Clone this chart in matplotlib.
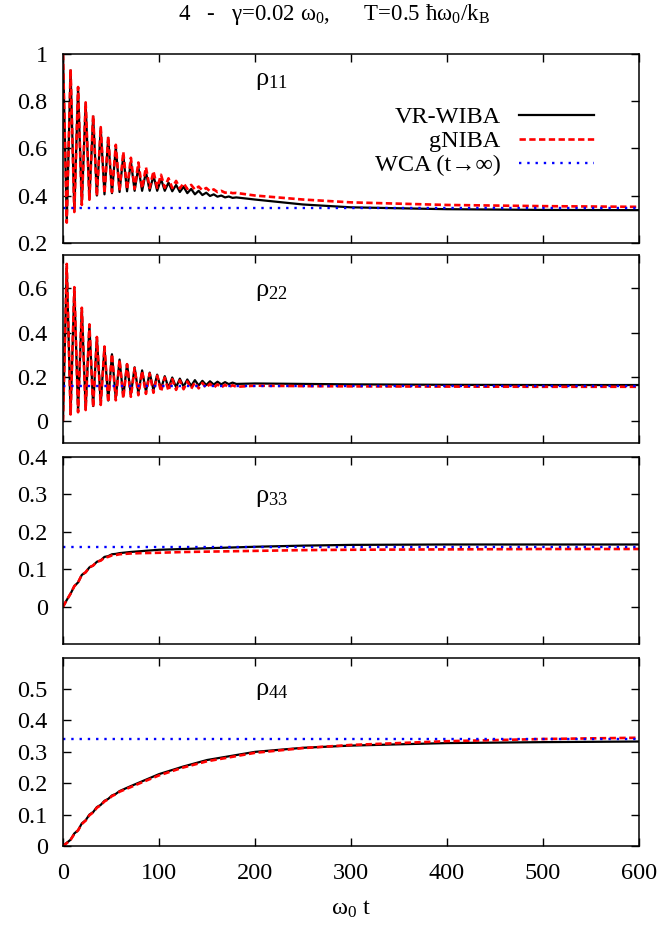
import numpy as np
import matplotlib
matplotlib.use("Agg")
import matplotlib.pyplot as plt
from matplotlib.ticker import FuncFormatter, MultipleLocator

plt.rcParams["font.family"] = ["Liberation Serif", "DejaVu Serif"]
plt.rcParams["mathtext.fontset"] = "custom"
plt.rcParams["mathtext.rm"] = "Liberation Serif"
plt.rcParams["mathtext.it"] = "Liberation Serif:italic"
plt.rcParams["mathtext.fallback"] = "stix"
plt.rcParams["mathtext.default"] = "regular"

# times of the successive maxima / minima of the fast oscillation, then the slow tail
t_osc = [0, 3.9, 7.9, 11.8, 15.7, 19.6, 23.6, 27.5, 31.4, 35.3, 39.3, 43.2, 47.1,
         51.0, 55.0, 58.9, 62.8, 66.7, 70.7, 74.6, 78.5, 82.4, 86.4, 90.3, 94.2,
         98.1, 102.1, 106.0, 109.9, 113.8, 117.8, 121.7, 125.6, 129.5, 133.5,
         137.4, 141.3, 145.2, 149.2, 153.1, 157.0, 160.9, 164.8, 168.8, 172.7,
         176.6, 180.5]
t_tail = [200, 250, 300, 400, 500, 600]

# rho_11
rho11_vr = [1.0, 0.29, 0.93, 0.335, 0.855, 0.365, 0.79, 0.385, 0.735, 0.40, 0.685,
            0.405, 0.645, 0.41, 0.605, 0.415, 0.57, 0.418, 0.545, 0.42, 0.52, 0.42,
            0.50, 0.42, 0.485, 0.42, 0.47, 0.42, 0.455, 0.418, 0.445, 0.415, 0.437,
            0.41, 0.428, 0.405, 0.42, 0.402, 0.412, 0.398, 0.405, 0.395, 0.40,
            0.392, 0.396, 0.39, 0.392]
rho11_vr_tail = [0.383, 0.362, 0.35, 0.342, 0.339, 0.338]
rho11_gn = [1.0, 0.285, 0.935, 0.33, 0.86, 0.36, 0.795, 0.382, 0.74, 0.398, 0.69,
            0.408, 0.65, 0.415, 0.615, 0.42, 0.585, 0.425, 0.56, 0.428, 0.54, 0.43,
            0.52, 0.432, 0.503, 0.433, 0.488, 0.433, 0.473, 0.432, 0.462, 0.43,
            0.452, 0.428, 0.445, 0.425, 0.438, 0.422, 0.432, 0.418, 0.426, 0.415,
            0.42, 0.412, 0.415, 0.41, 0.411]
rho11_gn_tail = [0.40, 0.383, 0.371, 0.36, 0.355, 0.352]

# rho_22
rho22_vr = [0.0, 0.70, 0.035, 0.60, 0.045, 0.51, 0.055, 0.435, 0.068, 0.378, 0.08,
            0.335, 0.093, 0.302, 0.103, 0.278, 0.112, 0.258, 0.12, 0.243, 0.127,
            0.229, 0.134, 0.219, 0.14, 0.21, 0.145, 0.203, 0.15, 0.197, 0.153,
            0.192, 0.156, 0.188, 0.159, 0.185, 0.161, 0.182, 0.163, 0.18, 0.165,
            0.178, 0.166, 0.176, 0.167, 0.174, 0.168]
rho22_vr_tail = [0.17, 0.168, 0.166, 0.164, 0.163, 0.163]
rho22_gn = [0.0, 0.71, 0.03, 0.605, 0.04, 0.512, 0.05, 0.437, 0.062, 0.38, 0.073,
            0.337, 0.085, 0.303, 0.094, 0.278, 0.103, 0.257, 0.11, 0.24, 0.117,
            0.226, 0.123, 0.215, 0.128, 0.205, 0.133, 0.197, 0.137, 0.19, 0.141,
            0.184, 0.144, 0.179, 0.146, 0.175, 0.148, 0.172, 0.15, 0.169, 0.151,
            0.166, 0.152, 0.164, 0.153, 0.162, 0.155]
rho22_gn_tail = [0.16, 0.158, 0.157, 0.156, 0.155, 0.155]

# rho_33 and rho_44 just rise monotonically (small steps early on)
t_rise = [0, 3.9, 7.9, 11.8, 15.7, 19.6, 23.6, 27.5, 31.4, 35.3, 39.3, 43.2, 47.1,
          51.0, 55.0, 58.9, 70, 80, 100, 125, 150, 200, 250, 300, 400, 500, 600]
rho33_vr = [0, 0.018, 0.035, 0.055, 0.065, 0.085, 0.092, 0.105, 0.11, 0.12, 0.124,
            0.133, 0.135, 0.14, 0.141, 0.143, 0.146, 0.148, 0.152, 0.154, 0.156,
            0.16, 0.163, 0.165, 0.166, 0.166, 0.166]
rho33_gn = [0, 0.018, 0.035, 0.055, 0.065, 0.085, 0.092, 0.105, 0.11, 0.12, 0.123,
            0.131, 0.133, 0.137, 0.138, 0.14, 0.142, 0.143, 0.144, 0.146, 0.147,
            0.149, 0.151, 0.152, 0.153, 0.154, 0.154]
rho44_vr = [0, 0.01, 0.02, 0.04, 0.05, 0.072, 0.082, 0.1, 0.108, 0.124, 0.131,
            0.144, 0.15, 0.161, 0.166, 0.175, 0.19, 0.203, 0.229, 0.253, 0.274,
            0.30, 0.313, 0.32, 0.328, 0.331, 0.333]
rho44_gn = [0, 0.009, 0.02, 0.038, 0.05, 0.07, 0.081, 0.098, 0.107, 0.122, 0.13,
            0.142, 0.149, 0.159, 0.165, 0.173, 0.187, 0.2, 0.225, 0.25, 0.27,
            0.297, 0.312, 0.322, 0.334, 0.341, 0.345]

# long time limit (WCA)
wca = [0.345, 0.158, 0.16, 0.341]

names = [r"ρ$_{11}$", r"ρ$_{22}$", r"ρ$_{33}$", r"ρ$_{44}$"]
t_vr = [t_osc + t_tail, t_osc + t_tail, t_rise, t_rise]
t_gn = t_vr
vr = [rho11_vr + rho11_vr_tail, rho22_vr + rho22_vr_tail, rho33_vr, rho44_vr]
gn = [rho11_gn + rho11_gn_tail, rho22_gn + rho22_gn_tail, rho33_gn, rho44_gn]

ylims = [(0.2, 1.0), (-0.1, 0.75), (-0.1, 0.4), (0.0, 0.6)]
yticks = [np.arange(0.2, 1.01, 0.2), np.arange(0, 0.61, 0.2),
          np.arange(0, 0.41, 0.1), np.arange(0, 0.51, 0.1)]
# panel placement [bottom, height] in figure fraction
boxes = [(0.7379, 0.2038), (0.5213, 0.2033), (0.3042, 0.2026), (0.0864, 0.2033)]
label_y = [0.835, 0.78, 0.76, 0.80]

fs = 17.5
fig = plt.figure(figsize=(6.59, 9.26), dpi=100)
fmt = FuncFormatter(lambda v, _: f"{v:g}")

axes = []
for i in range(4):
    b, h = boxes[i]
    ax = fig.add_axes([0.0956, b, 0.8741, h], sharex=axes[0] if axes else None)
    axes.append(ax)

    ax.plot(t_vr[i], vr[i], color="black", lw=1.6, label="VR-WIBA")
    ax.plot(t_gn[i], gn[i], color="red", lw=1.9, ls=(0, (2.4, 1.3)), label="gNIBA")
    ax.axhline(wca[i], color="blue", lw=1.7, ls=(0, (1, 2.5)),
               label="WCA (t→∞)")

    ax.set_xlim(0, 600)
    ax.set_ylim(*ylims[i])
    ax.set_yticks(yticks[i])
    ax.yaxis.set_major_formatter(fmt)
    ax.xaxis.set_major_locator(MultipleLocator(100))
    ax.xaxis.set_major_formatter(fmt)
    ax.tick_params(direction="in", top=True, right=True, length=6, width=1.0,
                   labelsize=fs)
    ax.tick_params(axis="y", pad=11)
    ax.tick_params(axis="x", pad=12)
    for s in ax.spines.values():
        s.set_linewidth(1.1)
    if i < 3:
        ax.tick_params(labelbottom=False)

    ax.text(0.333, label_y[i], names[i], transform=ax.transAxes, fontsize=19,
            ha="left", va="baseline")

axes[0].legend(loc="upper right", bbox_to_anchor=(0.922, 0.722), frameon=False,
               markerfirst=False, fontsize=fs, handlelength=3.1,
               handletextpad=0.75, labelspacing=0.08, borderpad=0, borderaxespad=0)

axes[3].set_xlabel(r"ω$_0$ t", fontsize=fs, labelpad=11)

fig.text(0.27, 0.984, r"4   -   γ=0.02 ω$_0$,      T=0.5 $\hbar$ω$_0$/k$_B$",
         fontsize=16.5, ha="left", va="center")

fig.savefig("out.png", dpi=100)
